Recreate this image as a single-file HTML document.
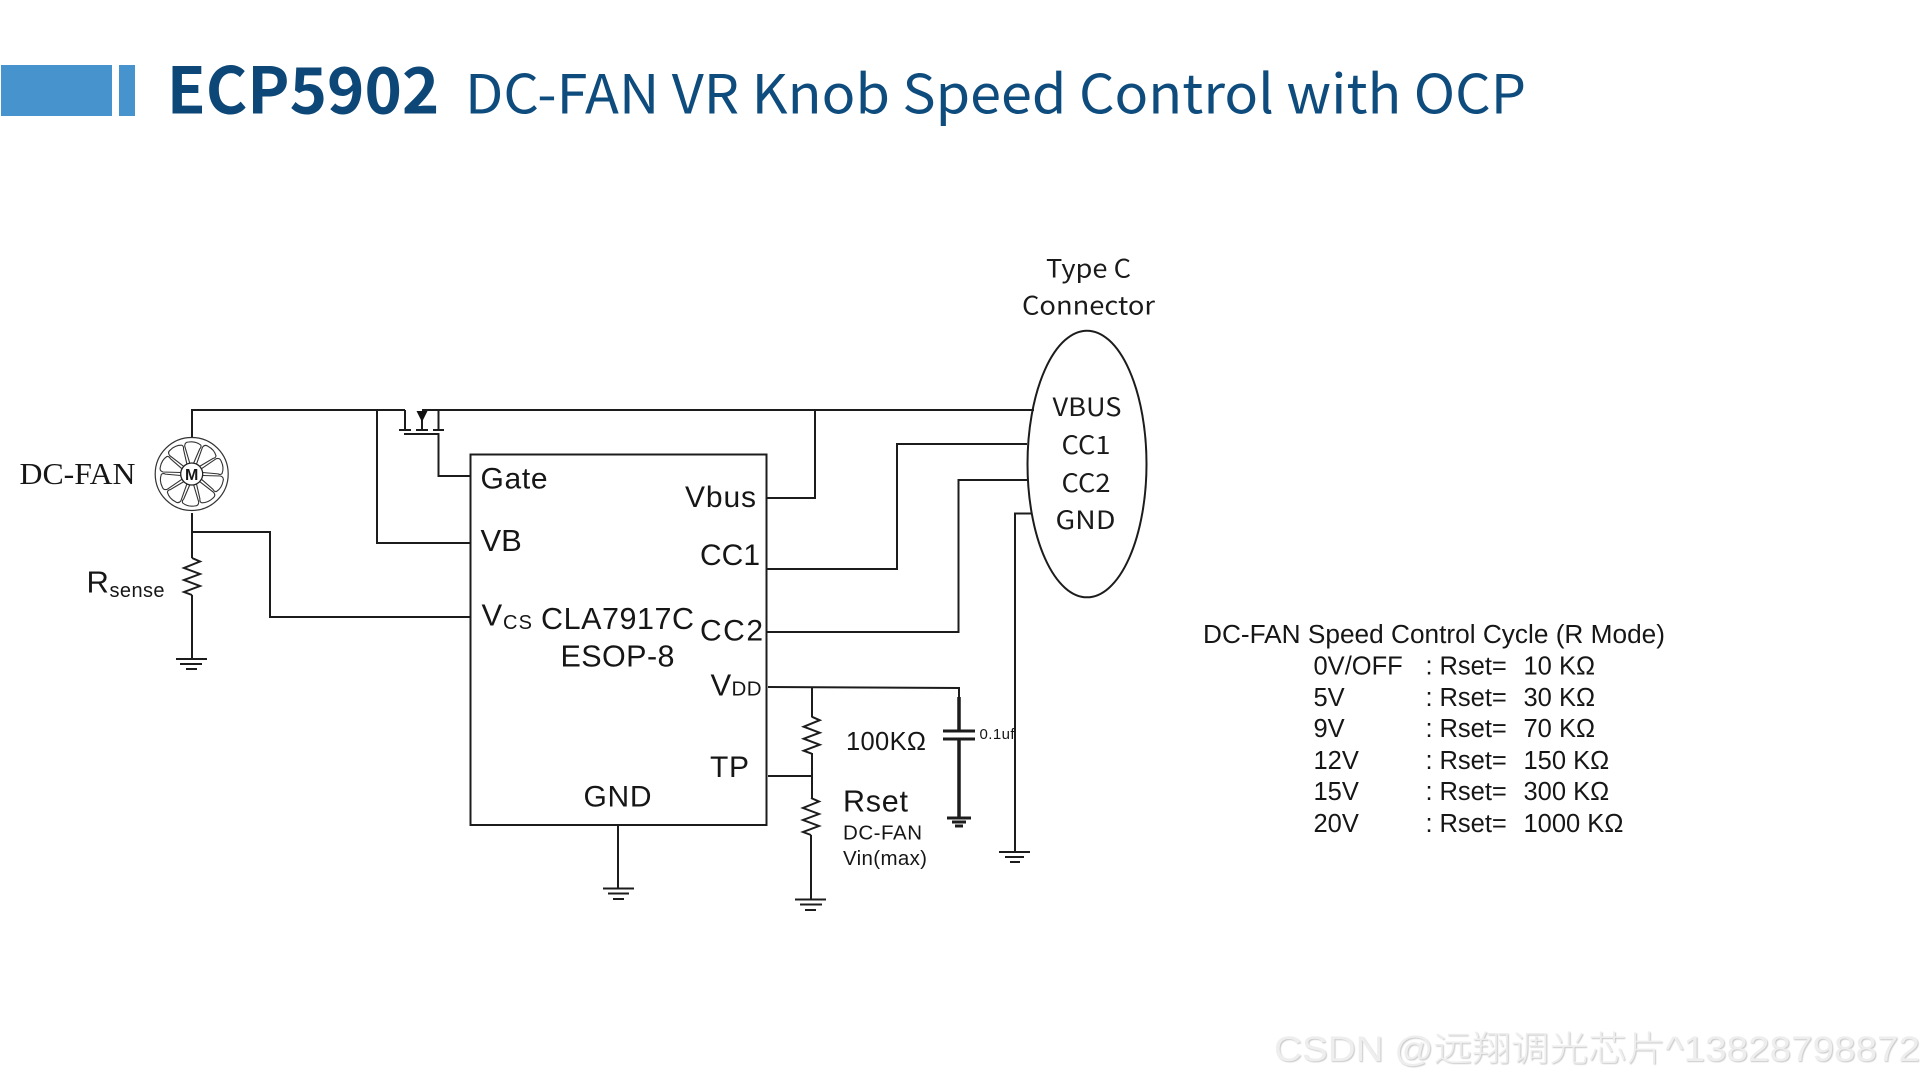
<!DOCTYPE html>
<html lang="en">
<head>
<meta charset="utf-8">
<title>ECP5902 DC-FAN VR Knob Speed Control with OCP</title>
<style>
html,body{margin:0;padding:0;background:#fff;width:1920px;height:1080px;overflow:hidden}
svg{display:block}
.w{fill:none;stroke:#1c1c1c;stroke-width:2}
.a{font-family:"Liberation Sans",Arial,sans-serif;fill:#161616}
.c{font-family:"Noto Sans CJK SC","Liberation Sans",sans-serif;fill:#1a1a1a;font-size:25px}
.s{font-family:"Liberation Serif",serif;fill:#161616}
.b{fill:none;stroke:#333;stroke-width:1.1}
</style>
</head>
<body>
<svg xmlns="http://www.w3.org/2000/svg" width="1920" height="1080" viewBox="0 0 1920 1080">
<rect width="1920" height="1080" fill="#fff"/>

<!-- header -->
<rect x="1" y="65" width="111" height="51" fill="#4793cd"/>
<rect x="119" y="65" width="16" height="51" fill="#4793cd"/>
<text x="166.700" y="113.500" textLength="272.600" lengthAdjust="spacingAndGlyphs" font-family="'Noto Sans CJK SC','Liberation Sans',sans-serif" font-weight="700" font-size="64" fill="#0c4777">ECP5902</text>
<text x="465" y="113.500" textLength="1061" lengthAdjust="spacingAndGlyphs" font-family="'Noto Sans CJK SC','Liberation Sans',sans-serif" font-size="54" fill="#0f4c7e">DC-FAN VR Knob Speed Control with OCP</text>

<!-- IC -->
<rect class="w" x="470.500" y="454.500" width="296" height="370.500"/>

<!-- wiring -->
<path class="w" d="M192 437V410H405M405 410V430M422 410H1034"/>
<path class="w" d="M377 410V543H470"/>
<path class="w" d="M399 430H411M416 430H428M433 430H444"/>
<path class="w" d="M422 420V430M438.500 410V430"/>
<path class="w" d="M404 434H438.500V476H470"/>
<polygon points="416.500,411 427.500,411 422,422" fill="#111"/>
<path class="w" d="M192 513V558M192 532H270V617H470"/>
<polyline class="w" points="192,558 200,561.500 184,568 200,574 184,580 200,586 184,592 192,595"/>
<path class="w" d="M192 595V659M176 659H207M180 664H202M186 669H197"/>
<path class="w" d="M766 498H815V410"/>
<path class="w" d="M766 569H897V444H1027"/>
<path class="w" d="M766 632H958.500V480H1028"/>
<path class="w" d="M1032 513.500H1015V852M999 852H1030M1005 857H1024M1010 862H1020"/>
<path class="w" d="M768 687L959 688V697"/>
<path d="M959 697V731M959 739V818" fill="none" stroke="#1c1c1c" stroke-width="3.500"/>
<path d="M943 731H975M943 739H975" fill="none" stroke="#1c1c1c" stroke-width="3"/>
<path d="M947 818H971M952 822H966M955 826H963" fill="none" stroke="#1c1c1c" stroke-width="3"/>
<path class="w" d="M812 687V717"/>
<polyline class="w" points="811.700,716.700 819.700,720.200 803.700,726.700 819.700,732.700 803.700,738.700 819.700,744.700 803.700,750.700 811.700,753.700"/>
<path class="w" d="M812 753V798M768 776H812"/>
<polyline class="w" points="811,798 819,801.500 803,808 819,814 803,820 819,826 803,832 811,835"/>
<path class="w" d="M811 835V899M795 899.500H826M800 904.500H822M805 910H816"/>
<path class="w" d="M618 825V888.500M603 888.500H634M608 893.500H629M613 899H624"/>

<!-- connector -->
<ellipse cx="1087" cy="464" rx="59.500" ry="133.300" fill="none" stroke="#1c1c1c" stroke-width="2"/>

<!-- fan -->
<g transform="translate(191.700 474)">
<circle r="36.500" fill="#fff" stroke="#333" stroke-width="1.200"/>
<g>
<path class="b" d="M-2-11L-7-28Q-7-32-3-32Q4-33 9-29Q10-27 8-25L2-11"/>
<path class="b" transform="rotate(36)" d="M-2-11L-7-28Q-7-32-3-32Q4-33 9-29Q10-27 8-25L2-11"/>
<path class="b" transform="rotate(72)" d="M-2-11L-7-28Q-7-32-3-32Q4-33 9-29Q10-27 8-25L2-11"/>
<path class="b" transform="rotate(108)" d="M-2-11L-7-28Q-7-32-3-32Q4-33 9-29Q10-27 8-25L2-11"/>
<path class="b" transform="rotate(144)" d="M-2-11L-7-28Q-7-32-3-32Q4-33 9-29Q10-27 8-25L2-11"/>
<path class="b" transform="rotate(180)" d="M-2-11L-7-28Q-7-32-3-32Q4-33 9-29Q10-27 8-25L2-11"/>
<path class="b" transform="rotate(216)" d="M-2-11L-7-28Q-7-32-3-32Q4-33 9-29Q10-27 8-25L2-11"/>
<path class="b" transform="rotate(252)" d="M-2-11L-7-28Q-7-32-3-32Q4-33 9-29Q10-27 8-25L2-11"/>
<path class="b" transform="rotate(288)" d="M-2-11L-7-28Q-7-32-3-32Q4-33 9-29Q10-27 8-25L2-11"/>
<path class="b" transform="rotate(324)" d="M-2-11L-7-28Q-7-32-3-32Q4-33 9-29Q10-27 8-25L2-11"/>
</g>
<circle r="11" fill="#fff" stroke="#222" stroke-width="1.300"/>
<text x="0" y="6" text-anchor="middle" class="a" font-size="16" font-weight="700">M</text>
</g>

<!-- left labels -->
<text class="s" x="19.500" y="484" font-size="31" textLength="116" lengthAdjust="spacingAndGlyphs">DC-FAN</text>
<text class="a" x="86.500" y="592.500" font-size="31">R</text>
<text class="a" x="109.500" y="597" font-size="20" textLength="55">sense</text>

<!-- IC labels -->
<text class="a" x="480.500" y="488.500" font-size="30" textLength="67">Gate</text>
<text class="a" x="480.500" y="551" font-size="31">VB</text>
<text class="a" x="481.500" y="625.500" font-size="31">V</text>
<text class="a" x="503" y="629" font-size="20" textLength="29">CS</text>
<text class="a" x="541" y="629" font-size="30.500" textLength="153">CLA7917C</text>
<text class="a" x="560.500" y="666.500" font-size="30.500" textLength="114">ESOP-8</text>
<text class="a" x="685" y="507" font-size="30" textLength="71">Vbus</text>
<text class="a" x="700" y="565" font-size="30" textLength="60">CC1</text>
<text class="a" x="700" y="640.500" font-size="30" textLength="63">CC2</text>
<text class="a" x="710.500" y="695.500" font-size="31">V</text>
<text class="a" x="731.500" y="695.500" font-size="20.500" textLength="30">DD</text>
<text class="a" x="710" y="777" font-size="30" textLength="39">TP</text>
<text class="a" x="583.500" y="806.500" font-size="30" textLength="68">GND</text>

<!-- right of IC labels -->
<text class="a" x="846" y="750" font-size="25.500" textLength="80">100KΩ</text>
<text class="a" x="843" y="811.500" font-size="30.500" textLength="65">Rset</text>
<text class="a" x="843" y="839.500" font-size="20.500" textLength="79">DC-FAN</text>
<text class="a" x="843" y="865" font-size="20.500" textLength="84">Vin(max)</text>
<text class="a" x="979.500" y="739" font-size="15" textLength="35" fill="#333">0.1uf</text>

<!-- connector labels -->
<text class="c" x="1046" y="277.500" textLength="85" lengthAdjust="spacingAndGlyphs">Type C</text>
<text class="c" x="1022" y="314.500" textLength="133" lengthAdjust="spacingAndGlyphs">Connector</text>
<text class="c" x="1052.500" y="416" textLength="69" lengthAdjust="spacingAndGlyphs">VBUS</text>
<text class="c" x="1061.500" y="454" textLength="49" lengthAdjust="spacingAndGlyphs">CC1</text>
<text class="c" x="1061.500" y="492" textLength="49" lengthAdjust="spacingAndGlyphs">CC2</text>
<text class="c" x="1055.500" y="529" textLength="60" lengthAdjust="spacingAndGlyphs">GND</text>

<!-- table -->
<g class="a" font-size="25.500">
<text x="1203" y="643" textLength="462" lengthAdjust="spacingAndGlyphs">DC-FAN Speed Control Cycle (R Mode)</text>
<text x="1313.500" y="674.500">0V/OFF</text><text x="1425.500" y="674.500">:</text><text x="1439.500" y="674.500">Rset=</text><text x="1523.500" y="674.500">10 KΩ</text>
<text x="1313.500" y="706">5V</text><text x="1425.500" y="706">:</text><text x="1439.500" y="706">Rset=</text><text x="1523.500" y="706">30 KΩ</text>
<text x="1313.500" y="737">9V</text><text x="1425.500" y="737">:</text><text x="1439.500" y="737">Rset=</text><text x="1523.500" y="737">70 KΩ</text>
<text x="1313.500" y="769">12V</text><text x="1425.500" y="769">:</text><text x="1439.500" y="769">Rset=</text><text x="1523.500" y="769">150 KΩ</text>
<text x="1313.500" y="800">15V</text><text x="1425.500" y="800">:</text><text x="1439.500" y="800">Rset=</text><text x="1523.500" y="800">300 KΩ</text>
<text x="1313.500" y="832">20V</text><text x="1425.500" y="832">:</text><text x="1439.500" y="832">Rset=</text><text x="1523.500" y="832">1000 KΩ</text>
</g>

<!-- watermark -->
<text x="1274" y="1061" font-family="'Liberation Sans','Noto Sans CJK SC',sans-serif" font-size="35" font-weight="300" textLength="646" lengthAdjust="spacingAndGlyphs" fill="#eeeeee" style="filter:drop-shadow(1px 1px .5px #c8c8c8)">CSDN @远翔调光芯片^13828798872</text>
</svg>
</body>
</html>
